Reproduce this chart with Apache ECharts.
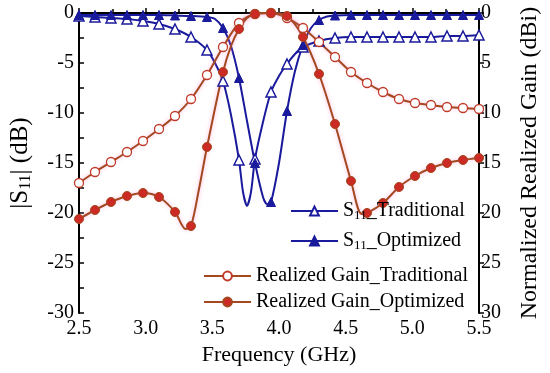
<!DOCTYPE html>
<html>
<head>
<meta charset="utf-8">
<script src="https://cdn.jsdelivr.net/npm/echarts@6/dist/echarts.min.js"></script>
<style>
html,body{margin:0;padding:0;background:#fff;}
#chart{width:550px;height:373px;}
</style>
</head>
<body>
<div id="chart"></div>
<script>
// Marker frequencies (GHz)
const freqGrid = [2.5, 2.62, 2.74, 2.86, 2.98, 3.10, 3.22, 3.34, 3.46, 3.58, 3.70, 3.82, 3.94,
  4.06, 4.18, 4.30, 4.42, 4.54, 4.66, 4.78, 4.90, 5.02, 5.14, 5.26, 5.38, 5.50];

// |S11| (dB) at marker frequencies
const s11Trad = [-0.3, -0.4, -0.5, -0.6, -0.8, -1.1, -1.6, -2.4, -3.7, -6.8, -14.7, -14.6, -7.9,
  -5.1, -3.4, -2.8, -2.5, -2.4, -2.4, -2.4, -2.4, -2.4, -2.4, -2.3, -2.3, -2.2];
const s11Opt = [-0.2, -0.2, -0.2, -0.2, -0.2, -0.2, -0.25, -0.3, -0.4, -1.5, -6.5, -15.0, -18.9,
  -9.8, -3.2, -0.7, -0.25, -0.2, -0.2, -0.2, -0.2, -0.2, -0.2, -0.2, -0.2, -0.2];
// extra curve points read between markers (no marker drawn)
const s11TradExtraF = [3.52, 3.64, 3.73, 3.76, 3.79, 3.88, 4.00, 4.12];
const s11TradExtraV = [-5.0, -10.2, -17.9, -19.3, -17.9, -10.9, -6.3, -4.1];
const s11OptExtraF = [3.52, 3.64, 3.76, 3.88, 3.91, 4.00, 4.12, 4.24, 4.36];
const s11OptExtraV = [-0.6, -3.3, -10.8, -18.4, -19.1, -15.0, -5.8, -1.5, -0.35];

// Normalized realized gain (dBi, right axis, 0 at top)
const gainTrad = [17.0, 15.9, 14.9, 13.9, 12.8, 11.6, 10.3, 8.6, 6.2, 3.4, 1.0, 0.1, 0.0,
  0.5, 1.5, 2.9, 4.4, 5.9, 7.0, 7.9, 8.6, 9.0, 9.2, 9.4, 9.5, 9.6];
const gainOpt = [20.6, 19.7, 18.9, 18.3, 18.0, 18.4, 19.9, 21.3, 13.4, 5.9, 1.6, 0.1, 0.0,
  0.3, 2.4, 6.1, 11.1, 16.8, 20.0, 19.0, 17.4, 16.3, 15.5, 15.0, 14.7, 14.5];
const gainOptExtraF = [3.30, 3.40, 3.64, 3.76, 4.62];
const gainOptExtraV = [21.6, 17.6, 3.3, 0.5, 20.1];

function build(grid, vals, exF, exV) {
  const pts = grid.map((f, i) => ({ value: [f, vals[i]] }));
  (exF || []).forEach((f, i) => pts.push({ value: [f, exV[i]], symbol: 'none' }));
  pts.sort((a, b) => a.value[0] - b.value[0]);
  return pts;
}

const BLUE = '#1a1a9c';
const BROWN = '#a3481f';
const RED = '#cc2a24';
const FONT = 'Liberation Serif';

const chart = echarts.init(document.getElementById('chart'), null, { renderer: 'canvas' });

const names = {
  s11t: 'S{sub|11}_Traditional',
  s11o: 'S{sub|11}_Optimized',
  gt: 'Realized Gain_Traditional',
  go: 'Realized Gain_Optimized'
};
const legendText = {
  color: '#000', fontFamily: FONT, fontSize: 20,
  rich: { sub: { fontFamily: FONT, fontSize: 13, padding: [9, 0, 0, 0], color: '#000' } }
};
function legend(key, left, top) {
  return {
    data: [key], left: left, top: top, orient: 'vertical', padding: 0,
    itemWidth: 47, itemHeight: 11, itemGap: 4,
    formatter: (n) => names[n], textStyle: legendText, selectedMode: false
  };
}

const option = {
  animation: false,
  backgroundColor: '#fff',
  grid: { left: 76, right: 68, top: 13, bottom: 60, containLabel: false },
  legend: [
    legend('s11t', 290, 201),
    legend('s11o', 290, 231),
    legend('gt', 203, 266),
    legend('go', 203, 292)
  ],
  xAxis: [{
    type: 'value', min: 2.5, max: 5.5, interval: 0.5,
    name: 'Frequency (GHz)', nameLocation: 'middle', nameGap: 30,
    nameTextStyle: { fontFamily: FONT, fontSize: 22, color: '#000' },
    axisLine: { show: true, lineStyle: { color: '#000', width: 2 } },
    axisTick: { show: true, inside: true, length: 5, lineStyle: { color: '#000', width: 1.5 } },
    minorTick: { show: true, splitNumber: 2, length: 4, lineStyle: { color: '#000', width: 1.5 } },
    axisLabel: { fontFamily: FONT, fontSize: 20, color: '#000', margin: 6,
      formatter: (v) => v.toFixed(1) },
    splitLine: { show: false }
  }, {
    type: 'value', position: 'top', min: 2.5, max: 5.5, interval: 0.5,
    axisLine: { show: true, lineStyle: { color: '#000', width: 2 } },
    axisTick: { show: false }, axisLabel: { show: false }, splitLine: { show: false }
  }],
  yAxis: [{
    type: 'value', min: -30, max: 0, interval: 5, position: 'left',
    name: '|S{sub|11}| (dB)', nameLocation: 'middle', nameGap: 45, nameRotate: 90,
    nameTextStyle: { fontFamily: FONT, fontSize: 25, color: '#000',
      rich: { sub: { fontFamily: FONT, fontSize: 16, padding: [11, 0, 0, 0], color: '#000' } } },
    axisLine: { show: true, lineStyle: { color: '#000', width: 2 } },
    axisTick: { show: true, inside: true, length: 5, lineStyle: { color: '#000', width: 1.5 } },
    minorTick: { show: true, splitNumber: 2, length: 5, lineStyle: { color: '#000', width: 1.5 } },
    axisLabel: { fontFamily: FONT, fontSize: 20, color: '#000', margin: 5 },
    splitLine: { show: false }
  }, {
    type: 'value', min: 0, max: 30, interval: 5, position: 'right', inverse: true,
    name: 'Normalized Realized Gain (dBi)', nameLocation: 'middle', nameGap: 39, nameRotate: 90,
    nameTextStyle: { fontFamily: FONT, fontSize: 24, color: '#000' },
    axisLine: { show: true, lineStyle: { color: '#000', width: 2 } },
    axisTick: { show: true, inside: false, length: 5, lineStyle: { color: '#000', width: 1.5 } },
    axisLabel: { fontFamily: FONT, fontSize: 20, color: '#000', margin: 2 },
    splitLine: { show: false }
  }],
  series: [{
    name: 's11t', type: 'line', xAxisIndex: 0, yAxisIndex: 0,
    data: build(freqGrid, s11Trad, s11TradExtraF, s11TradExtraV),
    smooth: 0.25,
    symbol: 'triangle', symbolSize: 10, showAllSymbol: true,
    lineStyle: { color: BLUE, width: 2 },
    itemStyle: { color: '#fff', borderColor: BLUE, borderWidth: 1.5 }
  }, {
    name: 's11o', type: 'line', xAxisIndex: 0, yAxisIndex: 0,
    data: build(freqGrid, s11Opt, s11OptExtraF, s11OptExtraV),
    smooth: 0.25,
    symbol: 'triangle', symbolSize: 9, showAllSymbol: true,
    lineStyle: { color: BLUE, width: 2 },
    itemStyle: { color: BLUE, borderColor: BLUE, borderWidth: 1 }
  }, {
    name: 'gt', type: 'line', xAxisIndex: 0, yAxisIndex: 1,
    data: build(freqGrid, gainTrad),
    smooth: 0.3,
    symbol: 'circle', symbolSize: 9, showAllSymbol: true,
    lineStyle: { color: BROWN, width: 2, shadowColor: 'rgba(255,130,200,0.6)', shadowBlur: 4 },
    itemStyle: { color: '#fff', borderColor: '#c03a2a', borderWidth: 1.3 }
  }, {
    name: 'go', type: 'line', xAxisIndex: 0, yAxisIndex: 1,
    data: build(freqGrid, gainOpt, gainOptExtraF, gainOptExtraV),
    smooth: 0.3,
    symbol: 'circle', symbolSize: 9, showAllSymbol: true,
    lineStyle: { color: BROWN, width: 2, shadowColor: 'rgba(255,130,200,0.6)', shadowBlur: 4 },
    itemStyle: { color: RED, borderColor: BROWN, borderWidth: 1 }
  }]
};
chart.setOption(option);
</script>
</body>
</html>
